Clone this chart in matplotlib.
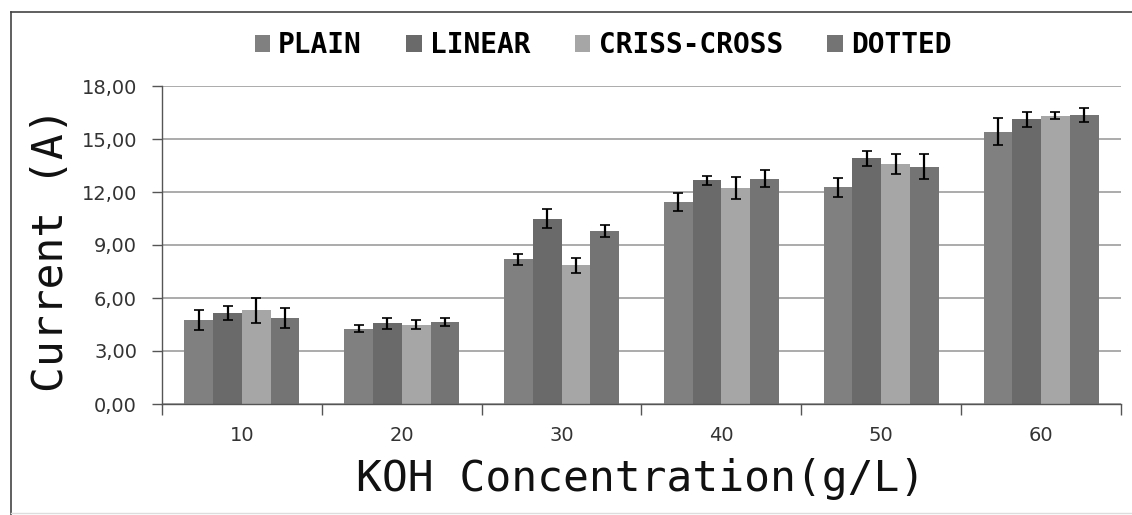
import matplotlib
matplotlib.use("Agg")
import matplotlib.pyplot as plt
import numpy as np
from matplotlib.lines import Line2D
from matplotlib.patches import Patch

categories = ["10", "20", "30", "40", "50", "60"]
series_names = ["PLAIN", "LINEAR", "CRISS-CROSS", "DOTTED"]
plain = [4.75, 4.27, 8.18, 11.42, 12.26, 15.42]
linear = [5.15, 4.57, 10.48, 12.66, 13.90, 16.12]
criss = [5.30, 4.48, 7.84, 12.22, 13.58, 16.33]
dotted = [4.87, 4.64, 9.80, 12.75, 13.43, 16.37]
plain_err = [0.57, 0.20, 0.30, 0.50, 0.56, 0.77]
linear_err = [0.40, 0.30, 0.53, 0.25, 0.44, 0.42]
criss_err = [0.70, 0.25, 0.40, 0.63, 0.55, 0.20]
dotted_err = [0.58, 0.22, 0.35, 0.49, 0.71, 0.41]
yticks = [0, 3, 6, 9, 12, 15, 18]
ytick_labels = ["0,00", "3,00", "6,00", "9,00", "12,00", "15,00", "18,00"]

colors = ["#808080", "#6a6a6a", "#a6a6a6", "#747474"]

W, H = 1132, 515
fig = plt.figure(figsize=(W / 100, H / 100), dpi=100)
fig.patch.set_facecolor("white")

ax = fig.add_axes([162 / W, 1 - 404 / H, 959 / W, 318 / H])

x = np.arange(len(categories))
bw = 0.18
values = [plain, linear, criss, dotted]
errs = [plain_err, linear_err, criss_err, dotted_err]
for i, (vals, err, col) in enumerate(zip(values, errs, colors)):
    pos = x + (i - 1.5) * bw
    ax.bar(pos, vals, width=bw, color=col, zorder=2, linewidth=0)
    ax.errorbar(pos, vals, yerr=err, fmt="none", ecolor="black",
                elinewidth=1.6, capsize=3.5, capthick=1.2, zorder=3)

ax.set_xlim(-0.5, len(categories) - 0.5)
ax.set_ylim(0, 18)
ax.set_yticks(yticks)
ax.set_yticklabels(ytick_labels, fontsize=14, color="#333333")
ax.set_xticks(x)
ax.set_xticklabels(categories, fontsize=14, color="#333333")
ax.set_xticks(np.arange(-0.5, len(categories), 1.0), minor=True)
ax.tick_params(axis="x", which="major", length=0, pad=16)
ax.tick_params(axis="x", which="minor", length=8, width=1, color="#555555", direction="out")
ax.tick_params(axis="y", which="major", length=7, width=1, color="#555555", pad=11)

ax.grid(axis="y", color="#ababab", linewidth=1.4, zorder=0)
ax.set_axisbelow(True)
for s in ["top", "right"]:
    ax.spines[s].set_visible(False)
ax.spines["left"].set_color("#555555")
ax.spines["bottom"].set_color("#555555")
ax.spines["left"].set_linewidth(1)
ax.spines["bottom"].set_linewidth(1)

fig.text(51 / W, 1 - 250 / H, "Current (A)", rotation=90, ha="center", va="center",
         fontsize=31, family="DejaVu Sans Mono", color="#111111")
fig.text(641 / W, 1 - 491 / H, "KOH Concentration(g/L)", ha="center", va="baseline",
         fontsize=31, family="DejaVu Sans Mono", color="#111111")

handles = [Patch(facecolor=c, edgecolor="none") for c in colors]
leg = fig.legend(handles, series_names, loc="center", bbox_to_anchor=(603 / W, 1 - 45 / H),
                 ncol=4, frameon=False, handlelength=0.55, handleheight=0.55,
                 handletextpad=0.3, columnspacing=1.6,
                 prop={"family": "DejaVu Sans Mono", "weight": "bold", "size": 20})

# figure frame
fig.add_artist(Line2D([11 / W, 1.0], [1 - 12 / H, 1 - 12 / H], color="#444444", linewidth=1.2,
                      transform=fig.transFigure))
fig.add_artist(Line2D([11 / W, 11 / W], [0.0, 1 - 12 / H], color="#444444", linewidth=1.2,
                      transform=fig.transFigure))
fig.add_artist(Line2D([11 / W, 1.0], [1 - 513 / H, 1 - 513 / H], color="#dddddd", linewidth=1,
                      transform=fig.transFigure))

fig.savefig("out.png", dpi=100)
